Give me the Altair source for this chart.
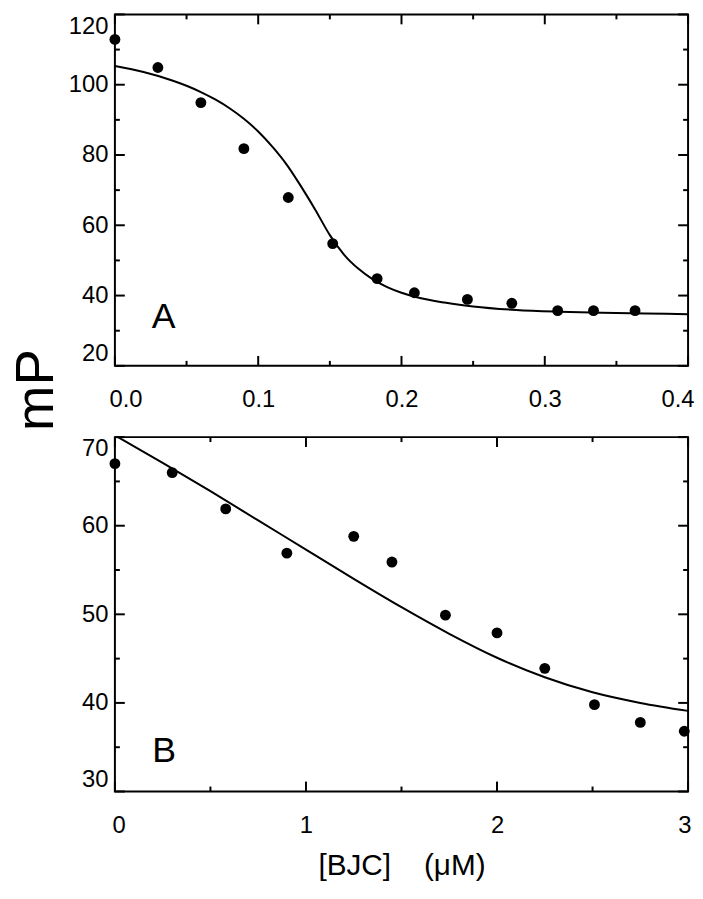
import altair as alt
import pandas as pd

# ---------------- Panel A data ----------------
a_x = [0.0, 0.030, 0.060, 0.090, 0.121, 0.152, 0.183, 0.209, 0.246, 0.277, 0.309, 0.334, 0.363]
a_y = [112.9, 104.9, 94.9, 81.8, 67.9, 54.8, 44.8, 40.8, 38.9, 37.8, 35.7, 35.7, 35.7]
a_fit_x = [0.00, 0.02, 0.04, 0.05, 0.06, 0.07, 0.08, 0.09, 0.10, 0.11, 0.12, 0.13, 0.14,
           0.15, 0.16, 0.17, 0.18, 0.19, 0.20, 0.21, 0.23, 0.25, 0.28, 0.31, 0.34, 0.37,
           0.40]
a_fit_y = [105.3, 103.6, 101.2, 99.7, 97.9, 95.8, 93.3, 90.3, 86.7, 82.3, 77.2, 71.0, 64.3,
           57.2, 51.6, 47.6, 44.6, 42.4, 40.8, 39.6, 38.0, 36.9, 35.9, 35.4, 35.1, 34.9,
           34.7]
a_xmaj = [0.0, 0.1, 0.2, 0.3, 0.4]
a_xmin = [0.05, 0.15, 0.25, 0.35]
a_ymaj = [20, 40, 60, 80, 100, 120]
a_ymin = [30, 50, 70, 90, 110]

# ---------------- Panel B data ----------------
b_x = [0.0, 0.30, 0.58, 0.90, 1.25, 1.45, 1.73, 2.00, 2.25, 2.51, 2.75, 2.98]
b_y = [67.0, 66.0, 61.9, 56.9, 58.8, 55.9, 49.9, 47.9, 43.9, 39.8, 37.8, 36.8]
b_fit_x = [0.0, 0.25, 0.5, 0.75, 1.0, 1.25, 1.5, 1.75, 2.0, 2.25, 2.5, 2.75, 3.0]
b_fit_y = [70.2, 67.1, 63.9, 60.6, 57.3, 54.0, 50.8, 47.8, 45.1, 42.9, 41.2, 40.0, 39.1]
b_xmaj = [0, 1, 2, 3]
b_xmin = [0.5, 1.5, 2.5]
b_ymaj = [30, 40, 50, 60, 70]
b_ymin = [35, 45, 55, 65]

FONT = "Liberation Sans"
W = 579
MAJ = 10
MIN = 5


def panel(px, py, fx, fy, xdom, ydom, xmaj, xmin, ymaj, ymin, xfmt, letter, lx, ly,
          H, xflush, ytitle=None, xtitle=None):
    xs = alt.Scale(domain=xdom, nice=False, zero=False)
    ys = alt.Scale(domain=ydom, nice=False, zero=False)

    xaxis = alt.Axis(values=xmaj, format=xfmt, ticks=False, domain=False,
                     grid=False, labelPadding=22, labelFlush=True, labelFlushOffset=xflush,
                     labelFontSize=24, labelFont=FONT, labelColor="black",
                     title=xtitle, titleFontSize=30, titleFont=FONT, titleColor="black",
                     titleFontWeight="normal", titlePadding=14)
    yaxis = alt.Axis(values=ymaj, format="d", ticks=False, domain=False,
                     grid=False, labelPadding=7, labelFlush=True, labelFlushOffset=0,
                     labelFontSize=24, labelFont=FONT, labelColor="black",
                     title=ytitle, titleFontSize=55, titleFont=FONT, titleColor="black",
                     titleFontWeight="normal", titleAngle=270, titleX=-63, titleY=379,
                     titleBaseline="alphabetic", titleAlign="center")

    X = lambda f: alt.X(f"{f}:Q", scale=xs, axis=xaxis)
    Y = lambda f: alt.Y(f"{f}:Q", scale=ys, axis=yaxis)

    pts = pd.DataFrame({"x": px, "y": py})
    fit = pd.DataFrame({"x": fx, "y": fy})

    points = alt.Chart(pts).mark_circle(size=120, color="black", opacity=1).encode(
        x=X("x"), y=Y("y"))
    line = alt.Chart(fit).mark_line(color="black", strokeWidth=2, interpolate="monotone",
                                    clip=True).encode(x=X("x"), y=Y("y"))

    layers = [points, line]

    def xr(vals, length, top):
        d = pd.DataFrame({"x": vals})
        if top:
            yv, y2v = 0, length
        else:
            yv, y2v = H, H - length
        return alt.Chart(d).mark_rule(color="black", strokeWidth=2).encode(
            x=X("x"), y=alt.value(yv), y2=alt.value(y2v))

    def yr(vals, length, right):
        d = pd.DataFrame({"y": vals})
        if right:
            xv, x2v = W, W - length
        else:
            xv, x2v = 0, length
        return alt.Chart(d).mark_rule(color="black", strokeWidth=2).encode(
            y=Y("y"), x=alt.value(xv), x2=alt.value(x2v))

    for top in (False, True):
        layers.append(xr(xmaj, MAJ, top))
        layers.append(xr(xmin, MIN, top))
    for right in (False, True):
        layers.append(yr(ymaj, MAJ, right))
        layers.append(yr(ymin, MIN, right))

    lab = pd.DataFrame({"x": [lx], "y": [ly], "t": [letter]})
    layers.append(alt.Chart(lab).mark_text(fontSize=36, font=FONT, color="black",
                                           align="center", baseline="middle").encode(
        x=X("x"), y=Y("y"), text="t:N"))

    return alt.layer(*layers).properties(width=W, height=H)


top = panel(a_x, a_y, a_fit_x, a_fit_y, [0, 0.4], [20, 120], a_xmaj, a_xmin, a_ymaj, a_ymin,
            ".1f", "A", 0.034, 33.8, 355, 6, ytitle="mP")
bottom = panel(b_x, b_y, b_fit_x, b_fit_y, [0, 3], [30, 70], b_xmaj, b_xmin, b_ymaj, b_ymin,
               "d", "B", 0.257, 34.6, 358, 3,
               xtitle="[BJC]\u00a0\u00a0\u00a0\u00a0(\u03bcM)")

chart = alt.vconcat(top, bottom, spacing=72, bounds="flush").properties(
    padding={"left": 0, "top": 0, "right": 0, "bottom": 4},
).configure_view(
    stroke="black", strokeWidth=2
)

chart.save("out.html", embed_options={"renderer": "svg", "actions": False})
